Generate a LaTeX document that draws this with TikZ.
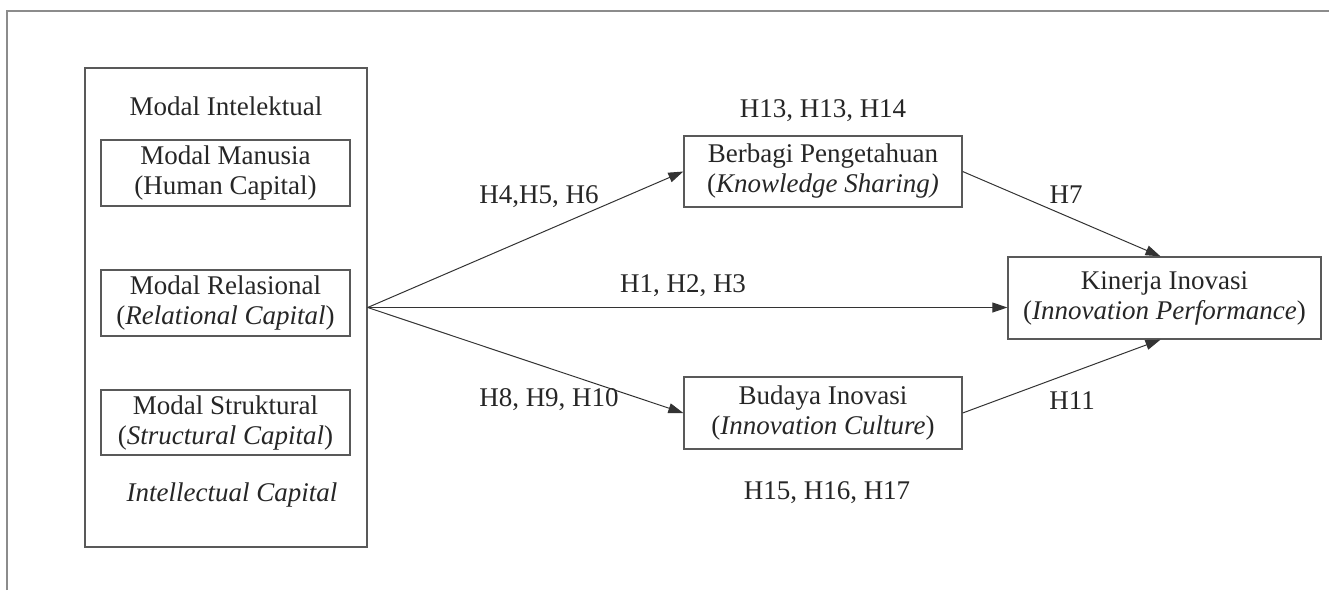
\documentclass[tikz,border=0pt]{standalone}
\usepackage{fontspec}
\setmainfont{Liberation Serif}
\usetikzlibrary{arrows.meta}
\begin{document}
\begin{tikzpicture}[x=1pt,y=-1pt,
  every node/.style={font=\fontsize{27}{30}\selectfont, text=black!85},
  box/.style={draw=black!65, line width=1.3pt, inner sep=0pt, align=center},
  lbl/.style={inner sep=0pt, anchor=center},
  arr/.style={draw=black!80, line width=1pt, -{Triangle[length=15pt,width=10pt]}},
  frame/.style={draw=black!45, line width=1.8pt}]
\useasboundingbox (0,0) rectangle (1329,590);
% outer frame
\draw[frame] (7,590) -- (7,11) -- (1329,11);
% big box
\node[box, minimum width=282pt, minimum height=479pt] (ic) at (226,307.5) {};
\node[lbl] (mi) at (226,106) {Modal Intelektual};
\node[lbl] (icl) at (232,495) {\itshape Intellectual Capital};
\node[box, minimum width=249pt, minimum height=66pt] (hc) at (225.5,173) {Modal Manusia\\(Human Capital)};
\node[box, minimum width=249pt, minimum height=66pt] (rc) at (225.5,303) {Modal Relasional\\(\textit{Relational Capital})};
\node[box, minimum width=249pt, minimum height=65pt] (sc) at (225.5,422.5) {Modal Struktural\\(\textit{Structural Capital})};
% mediators
\node[box, minimum width=278pt, minimum height=71pt] (bp) at (823,171.5) {Berbagi Pengetahuan\\(\textit{Knowledge Sharing)}};
\node[box, minimum width=278pt, minimum height=72pt] (bi) at (823,413) {Budaya Inovasi\\(\textit{Innovation Culture})};
\node[box, minimum width=313pt, minimum height=82pt] (ki) at (1164.5,298) {Kinerja Inovasi\\(\textit{Innovation Performance})};
% arrows
\draw[arr] (ic.east) -- (bp.west);
\draw[arr] (ic.east) -- (ki.west |- ic.east);
\draw[arr] (ic.east) -- (bi.west);
\draw[arr] (bp.east) -- ([xshift=-4pt]ki.north);
\draw[arr] (bi.east) -- ([xshift=-4pt]ki.south);
% labels
\node[lbl] (l1) at (823,111) {H13, H13, H14};
\node[lbl] (l2) at (539,197) {H4,H5, H6};
\node[lbl] (l3) at (683,286) {H1, H2, H3};
\node[lbl] (l4) at (549,400) {H8, H9, H10};
\node[lbl] (l5) at (1066,195) {H7};
\node[lbl] (l6) at (1072,401) {H11};
\node[lbl] (l7) at (827,493) {H15, H16, H17};
\end{tikzpicture}
\end{document}
